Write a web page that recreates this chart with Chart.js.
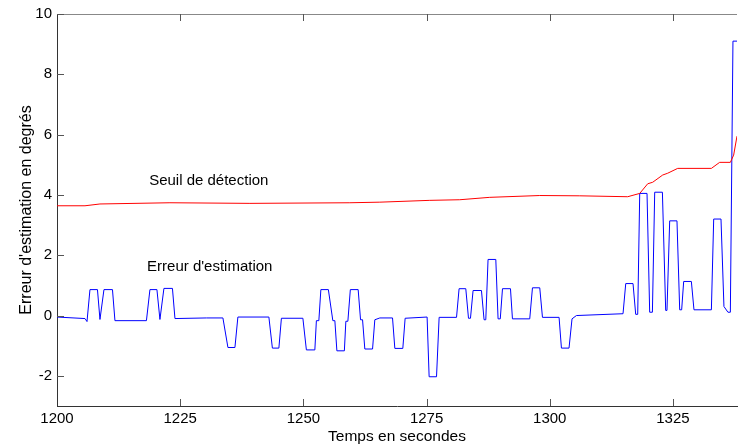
<!DOCTYPE html>
<html>
<head>
<meta charset="utf-8">
<script src="https://cdn.jsdelivr.net/npm/chart.js@4/dist/chart.umd.min.js"></script>
<style>
  html, body { margin: 0; padding: 0; background: #fff; }
  canvas { display: block; }
</style>
</head>
<body>
<canvas id="errChart" width="738" height="448"></canvas>
<script>
// Erreur d'estimation (blue)
const errTime = [1200.0, 1205.68, 1206.09, 1206.69, 1208.21, 1208.72, 1209.53, 1211.26, 1211.76, 1218.15,
    1218.86, 1220.28, 1220.89, 1221.70, 1223.43, 1223.94, 1230.32, 1233.67, 1234.69, 1236.11,
    1236.71, 1243.00, 1243.71, 1245.03, 1245.54, 1249.90, 1250.61, 1252.33, 1252.64, 1253.14,
    1253.55, 1255.07, 1255.98, 1256.39, 1256.80, 1258.32, 1258.62, 1259.03, 1259.53, 1261.12,
    1261.60, 1262.01, 1262.47, 1264.04, 1264.50, 1265.52, 1268.09, 1268.56, 1270.18, 1270.65,
    1275.11, 1275.52, 1277.02, 1277.55, 1281.08, 1281.60, 1282.96, 1283.51, 1283.91, 1284.44,
    1286.14, 1286.67, 1287.02, 1287.48, 1289.05, 1289.51, 1289.96, 1290.41, 1292.03, 1292.43,
    1295.94, 1296.49, 1297.97, 1298.52, 1301.89, 1302.37, 1303.91, 1304.52, 1305.41, 1314.87,
    1315.42, 1316.90, 1317.44, 1317.85, 1318.26, 1319.74, 1320.28, 1320.83, 1321.30, 1322.86,
    1323.53, 1323.79, 1324.34, 1325.82, 1326.37, 1326.77, 1327.18, 1328.74, 1329.27, 1332.80,
    1333.27, 1334.75, 1335.35, 1336.16, 1336.65, 1337.18, 1338.0]
const errValue = [-0.05, -0.1, -0.2, 0.86, 0.86, -0.13, 0.86, 0.86, -0.17, -0.17,
    0.86, 0.86, -0.13, 0.9, 0.9, -0.1, -0.08, -0.08, -1.06, -1.06,
    -0.05, -0.05, -1.08, -1.08, -0.09, -0.09, -1.14, -1.14, -0.17, -0.17,
    0.86, 0.86, -0.17, -0.17, -1.17, -1.17, -0.19, -0.19, 0.86, 0.86,
    -0.14, -0.14, -1.11, -1.11, -0.14, -0.08, -0.08, -1.09, -1.09, -0.09,
    -0.05, -2.03, -2.03, -0.06, -0.06, 0.89, 0.89, -0.09, -0.09, 0.83,
    0.83, -0.14, -0.14, 1.86, 1.86, -0.11, -0.11, 0.89, 0.89, -0.11,
    -0.11, 0.92, 0.92, -0.06, -0.06, -1.08, -1.08, -0.11, 0.0, 0.06,
    1.06, 1.06, 0.04, 0.04, 4.05, 4.05, 0.11, 0.11, 4.09, 4.09,
    0.17, 0.17, 3.14, 3.14, 0.19, 0.19, 1.13, 1.13, 0.19, 0.19,
    3.2, 3.2, 0.3, 0.11, 0.11, 9.1, 9.1]

// Seuil de détection (red)
const seuilTime = [1200.0, 1205.68, 1208.72, 1222.92, 1239.15, 1259.43, 1265.52, 1275.66, 1281.74, 1287.83,
    1297.97, 1306.09, 1315.82, 1318.26, 1319.88, 1320.89, 1322.92, 1323.94, 1325.96, 1332.80,
    1334.48, 1336.65, 1337.32, 1338.0]
const seuilValue = [3.64, 3.64, 3.7, 3.74, 3.72, 3.74, 3.76, 3.82, 3.84, 3.92,
    3.98, 3.97, 3.94, 4.05, 4.37, 4.42, 4.66, 4.72, 4.88, 4.88,
    5.08, 5.08, 5.32, 5.95]

const xTicks = [1200, 1225, 1250, 1275, 1300, 1325]
const yTicks = [-2, 0, 2, 4, 6, 8, 10]

// text labels inside the plot, in data units
const notes = [
    { text: "Seuil de détection", x: 1230.8, y: 4.47 },
    { text: "Erreur d'estimation", x: 1231.0, y: 1.63 },
]

const toPoints = (xs, ys) => xs.map((x, i) => ({ x: x, y: ys[i] }))

const FONT = "'Liberation Sans', Arial, sans-serif"

// inward tick marks + top frame line, MATLAB style
const frame = {
    id: "frame",
    afterDraw(chart) {
        const { ctx, chartArea: a, scales } = chart
        const len = 7
        ctx.save()
        ctx.lineWidth = 1
        ctx.strokeStyle = "#888"
        ctx.beginPath()
        ctx.moveTo(a.left, a.top + 0.5)
        ctx.lineTo(a.right, a.top + 0.5)
        ctx.stroke()
        ctx.strokeStyle = "#555"
        ctx.beginPath()
        xTicks.forEach((v) => {
            if (v === scales.x.min) return
            const px = Math.round(scales.x.getPixelForValue(v)) + 0.5
            ctx.moveTo(px, a.bottom)
            ctx.lineTo(px, a.bottom - len)
            ctx.moveTo(px, a.top)
            ctx.lineTo(px, a.top + len)
        })
        yTicks.forEach((v) => {
            const py = Math.round(scales.y.getPixelForValue(v)) + 0.5
            ctx.moveTo(a.left, py)
            ctx.lineTo(a.left + len, py)
        })
        ctx.stroke()

        ctx.fillStyle = "#000"
        ctx.font = "15px " + FONT
        ctx.textAlign = "center"
        ctx.textBaseline = "middle"
        notes.forEach((n) => {
            ctx.fillText(n.text, scales.x.getPixelForValue(n.x), scales.y.getPixelForValue(n.y))
        })
        ctx.restore()
    },
}

const errChart = new Chart(document.getElementById("errChart").getContext("2d"), {
    type: "scatter",
    data: {
        datasets: [
            {
                label: "Seuil de détection",
                data: toPoints(seuilTime, seuilValue),
                showLine: true,
                borderColor: "#ff0000",
                borderWidth: 1,
                pointRadius: 0,
                tension: 0,
            },
            {
                label: "Erreur d'estimation",
                data: toPoints(errTime, errValue),
                showLine: true,
                borderColor: "#0000ff",
                borderWidth: 1,
                pointRadius: 0,
                tension: 0,
            },
        ],
    },
    options: {
        responsive: false,
        animation: false,
        layout: { padding: { top: 13, right: 1, left: 0, bottom: 0 } },
        plugins: {
            legend: { display: false },
            tooltip: { enabled: false },
        },
        scales: {
            x: {
                type: "linear",
                min: 1200,
                max: 1338,
                afterBuildTicks: (scale) => { scale.ticks = xTicks.map((v) => ({ value: v })) },
                afterFit: (scale) => { scale.height = 42 },
                grid: { display: false, drawTicks: false },
                border: { display: true, color: "#333", width: 1 },
                ticks: {
                    padding: 4,
                    color: "#000",
                    font: { family: FONT, size: 15 },
                    maxRotation: 0,
                    callback: (value) => String(value),
                },
                title: {
                    display: true,
                    text: "Temps en secondes",
                    color: "#000",
                    font: { family: FONT, size: 15.5 },
                    padding: { top: 0, bottom: 2 },
                },
            },
            y: {
                type: "linear",
                min: -3,
                max: 10,
                afterBuildTicks: (scale) => { scale.ticks = yTicks.map((v) => ({ value: v })) },
                afterFit: (scale) => { scale.width = 57 },
                grid: { display: false, drawTicks: false },
                border: { display: true, color: "#333", width: 1 },
                ticks: {
                    padding: 5,
                    color: "#000",
                    font: { family: FONT, size: 15 },
                    callback: (value) => String(value),
                },
                title: {
                    display: true,
                    text: "Erreur d'estimation en degrés",
                    color: "#000",
                    font: { family: FONT, size: 16 },
                    padding: { top: 17, bottom: 0 },
                },
            },
        },
    },
    plugins: [frame],
})
</script>
</body>
</html>
